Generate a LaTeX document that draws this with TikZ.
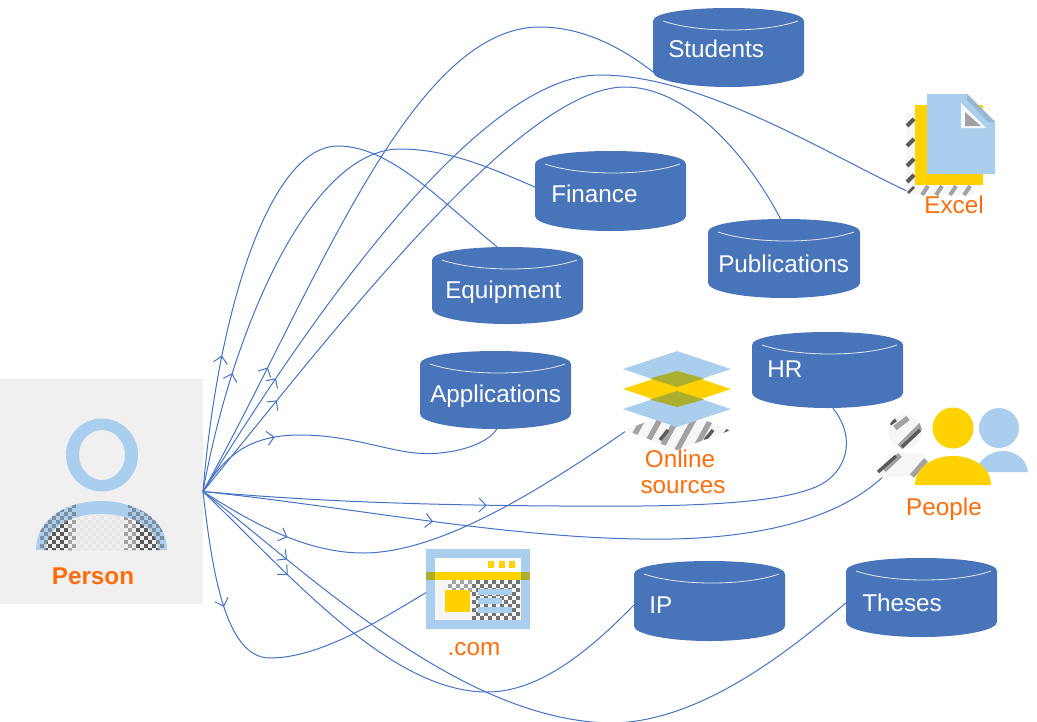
\documentclass[tikz,border=0pt]{standalone}
\usepackage{fontspec}
\setmainfont{Liberation Sans}
\usetikzlibrary{arrows.meta,decorations.markings,fit}
\definecolor{dbblue}{HTML}{4874BA}
\definecolor{linkblue}{HTML}{4472C4}
\definecolor{iconblue}{HTML}{A9CEEE}
\definecolor{iconyellow}{HTML}{FFD200}
\definecolor{iconolive}{HTML}{ABAF30}
\definecolor{labelorange}{HTML}{FF6D0A}
\definecolor{panelgrey}{HTML}{F0F0F0}
\definecolor{ditherdark}{HTML}{5A5A5A}
\definecolor{dithermid}{HTML}{A2A2A2}
\definecolor{ditherlight}{HTML}{E6E6E6}
\tikzset{
  basefont/.style={font=\fontsize{18.2}{22}\selectfont},
  dblabel/.style={basefont,text=white,anchor=base west,inner sep=0pt},
  iconlabel/.style={basefont,text=labelorange,inner sep=0pt,anchor=base},
  hull/.style={inner sep=0pt,outer sep=0pt},
  link/.style={draw=linkblue,line width=.75pt,line cap=round,postaction={decorate},
    decoration={markings,mark=at position #1 with {\arrow[line width=.75pt,linkblue]{Straight Barb[length=5.2pt,width=10.5pt]}}}},
}
% checker of 4px cells: x from, x to, y from, y to, colour
\newcommand{\chk}[5]{%
  \foreach \cx in {#1,\the\numexpr#1+4\relax,...,#2}{%
    \foreach \cy in {#3,\the\numexpr#3+4\relax,...,#4}{%
      \pgfmathtruncatemacro{\cp}{mod(round((\cx+\cy)/4),2)}%
      \ifnum\cp=0 \fill[#5] (\cx,\cy) rectangle ++(4,4);\fi
    }}}
% invisible hull node
\newcommand{\hullnode}[5]{%
  \coordinate (#1-a) at (#2,#3); \coordinate (#1-b) at (#4,#5);
  \node[hull,fit=(#1-a)(#1-b)] (#1) {};}
% database: name, left, top, right, bottom, text, text x, baseline y
\newcommand{\dbase}[8]{%
  \pgfmathsetmacro{\lx}{#2}\pgfmathsetmacro{\rx}{#4}\pgfmathsetmacro{\cx}{(#2+#4)/2}%
  \pgfmathsetmacro{\ty}{#3}\pgfmathsetmacro{\by}{#5}%
  \fill[dbblue] (\lx,\ty+13) .. controls (\lx,\ty+5) and (\cx-42,\ty) .. (\cx,\ty)
     .. controls (\cx+42,\ty) and (\rx,\ty+5) .. (\rx,\ty+13) -- (\rx,\by-15)
     .. controls (\rx,\by-7) and (\cx+42,\by) .. (\cx,\by)
     .. controls (\cx-42,\by) and (\lx,\by-7) .. (\lx,\by-15) -- cycle;
  \draw[white,line width=.6pt,opacity=.85] (\lx+10,\ty+13) .. controls (\lx+45,\ty+25) and (\rx-40,\ty+25) .. (\rx-6,\ty+13);
  \hullnode{#1}{#2}{#3}{#4}{#5}
  \node[dblabel] (#1-text) at (#7,#8) {#6};}
\begin{document}
\begin{tikzpicture}[x=.75pt,y=-.75pt]
\useasboundingbox (0,0) rectangle (1037,721);
\clip (0,0) rectangle (1037,721);
% ---------- person
\coordinate (person-a) at (0,379); \coordinate (person-b) at (203,604);
\node[hull,fill=panelgrey,fit=(person-a)(person-b)] (person) {};
\fill[iconblue,even odd rule] (102,455) ellipse [x radius=36,y radius=36.5] (102,455) ellipse [x radius=23,y radius=25];
\fill[iconblue] (36,550) .. controls (36,518) and (68,501) .. (101,501) .. controls (134,501) and (167,518) .. (167,550) -- cycle;
\begin{scope}
  \clip (36,550) .. controls (36,518) and (68,501) .. (101,501) .. controls (134,501) and (167,518) .. (167,550) -- cycle;
  \chk{40}{72}{504}{548}{ditherdark!55!iconblue}
  \chk{128}{160}{504}{548}{ditherdark!55!iconblue}
\end{scope}
\begin{scope}
  \clip (46,550) .. controls (46,528) and (70,514) .. (101,514) .. controls (132,514) and (158,528) .. (158,550) -- cycle;
  \fill[panelgrey] (40,510) rectangle (165,550);
  \chk{44}{68}{512}{548}{ditherdark}
  \chk{68}{76}{512}{548}{dithermid}
  \chk{76}{124}{512}{548}{ditherlight}
  \chk{124}{136}{512}{548}{dithermid}
  \chk{136}{156}{512}{548}{ditherdark}
\end{scope}
\node[iconlabel,font=\fontsize{18.2}{22}\selectfont\bfseries] (personlabel) at (93,584) {Person};
% ---------- databases
\dbase{students}{653}{8}{804}{87}{Students}{668}{57.5}
\dbase{finance}{535}{151}{686}{231}{Finance}{551}{202.5}
\dbase{equipment}{432}{247}{583}{324}{Equipment}{445}{298}
\dbase{applications}{420}{351}{571}{429}{Applications}{430}{402.5}
\dbase{publications}{708}{219}{860}{298}{Publications}{718}{272.5}
\dbase{hr}{752}{332}{903}{408}{HR}{767}{377.5}
\dbase{ip}{634}{561}{785}{641}{IP}{649}{613.5}
\dbase{theses}{846}{558}{997}{637}{Theses}{862}{611.5}
% ---------- excel icon
\hullnode{excel}{906}{94}{995}{195}
\fill[panelgrey!60!white] (906,113) rectangle (916,195) (906,185) rectangle (975,195);
\foreach \sy in {122,142,162,178}{\draw[ditherdark,line width=3pt] (907,\sy+4) -- (914,\sy-3);}
\foreach \sx in {922,936,950,964}{\draw[dithermid,line width=3pt] (\sx,195) -- (\sx+6,186);}
\draw[ditherdark,line width=2pt] (908,193) -- (914,187);
\fill[iconyellow] (915,105) rectangle (983,185);
\fill[iconblue] (927,94) -- (967,94) -- (995,122) -- (995,174) -- (927,174) -- cycle;
\fill[white!90!iconblue] (961,103) -- (986,128) -- (961,128) -- cycle;
\fill[dithermid] (965,112) -- (981,126) -- (965,126) -- cycle;
\fill[iconblue!80!ditherdark] (967,94) -- (995,122) -- (988,122) -- (967,100) -- cycle;
\node[iconlabel] (excellabel) at (954,213) {Excel};
% ---------- online sources icon
\coordinate (online-a) at (625,351); \coordinate (online-b) at (728,448);
\node[hull,fit=(online-a)(online-b)] (online) {};
\begin{scope}
  \clip (677,410) -- (731,430) -- (677,450) -- (625,430) -- cycle;
  \fill[panelgrey!60!white] (620,405) rectangle (735,450);
  \foreach \sx in {625,642,659,676,693}{\draw[dithermid,line width=4pt] (\sx,452) -- (\sx+22,412);}
  \foreach \sx in {705,720}{\draw[ditherdark,line width=2.5pt] (\sx,440) -- (\sx+8,430);}
  \draw[ditherdark,line width=2.5pt] (660,440) -- (668,430);
\end{scope}
\fill[iconblue] (677,391) -- (731,409) -- (677,427) -- (623,409) -- cycle;
\fill[iconblue] (677,351) -- (731,369) -- (677,387) -- (623,369) -- cycle;
\fill[iconyellow] (677,371) -- (731,389) -- (677,407) -- (623,389) -- cycle;
\fill[iconolive] (677,371) -- (704,378.5) -- (677,387) -- (650,378.5) -- cycle;
\fill[iconolive] (677,391) -- (704,399.5) -- (677,407) -- (650,399.5) -- cycle;
\node[iconlabel] (onlinelabel1) at (680,467) {Online};
\node[iconlabel] (onlinelabel2) at (683,493) {sources};
% ---------- people icon
\hullnode{people}{882}{407}{1029}{486}
\fill[panelgrey!60!white] (905,432) circle [radius=17];
\begin{scope}
  \clip (905,432) circle [radius=17];
  \draw[dithermid,line width=5pt] (900,447) -- (922,425);
  \draw[ditherdark,line width=2.5pt] (902,447) -- (920,430);
  \draw[ditherdark,line width=2.5pt] (890,424) -- (896,420);
  \draw[dithermid,line width=4pt] (895,428) -- (908,418);
\end{scope}
\fill[panelgrey!60!white] (876,477) -- (890,453) -- (925,453) -- (930,476) -- cycle;
\draw[dithermid,line width=4pt] (884,470) -- (900,455);
\draw[ditherdark,line width=2.5pt] (878,472) -- (896,456);
\draw[dithermid,line width=4pt] (912,476) -- (926,460);
\fill[iconblue] (999,428) circle [radius=20];
\fill[iconblue] (976,472) .. controls (978,460) and (990,451) .. (1003,451) .. controls (1016,451) and (1027,460) .. (1028,472) -- cycle;
\fill[iconyellow] (953,428) circle [radius=20.5];
\fill[iconyellow] (915,485) .. controls (915,468) and (932,456) .. (953,456) .. controls (974,456) and (991,468) .. (991,485) -- cycle;
\node[iconlabel] (peoplelabel) at (944,515) {People};
% ---------- .com icon
\hullnode{com}{426}{549}{530}{629}
\fill[iconblue] (426,549) rectangle (530,629);
\fill[white] (435,558) rectangle (521,620);
\fill[panelgrey!60!white] (435,580) rectangle (521,620);
\chk{472}{516}{580}{616}{ditherdark!85!white}
\chk{448}{470}{580}{588}{dithermid}
\fill[iconolive] (426,572) rectangle (530,580);
\fill[iconyellow] (435,572) rectangle (521,580);
\foreach \sx in {488,499,509}{\fill[iconyellow] (\sx,561) rectangle ++(6,7);}
\fill[iconyellow] (445,590) rectangle (470,612);
\fill[iconblue] (478,589) rectangle (512,595);
\fill[iconblue] (478,598) rectangle (502,604);
\fill[iconblue] (478,607) rectangle (512,613);
\node[iconlabel] (comlabel) at (474,655) {.com};
% ---------- connectors
\draw[link=103pt] (person.east) .. controls (218,310) and (270,146) .. (338,146) .. controls (390,146) and (440,200) .. (equipment.105.3);
\draw[link=91.5pt] (person.east) .. controls (232,330) and (310,149) .. (400,149) .. controls (450,149) and (495,170) .. (finance.177.7);
\draw[link=105pt] (person.east) .. controls (315,290) and (410,27) .. (540,27) .. controls (585,27) and (625,50) .. (students.198.2);
\draw[link=101pt] (person.east) .. controls (315,310) and (480,75) .. (600,75) .. controls (700,75) and (820,150) .. (excel.226.9);
\draw[link=88pt] (person.east) .. controls (335,330) and (520,87) .. (625,87) .. controls (690,87) and (750,160) .. (publications.95.8);
\draw[link=70pt] (person.east) .. controls (225,455) and (250,435) .. (300,435) .. controls (360,435) and (400,458) .. (440,453) .. controls (470,450) and (490,440) .. (applications.272.2);
\draw[link=213pt] (person.east) .. controls (300,500) and (400,505) .. (560,506) .. controls (680,507) and (780,505) .. (820,485) .. controls (845,472) and (858,440) .. (hr.278.2);
\draw[link=174pt] (person.east) .. controls (350,507) and (500,537) .. (640,539) .. controls (740,541) and (830,525) .. (people.203.2);
\draw[link=72pt] (person.east) .. controls (240,515) and (300,553) .. (363,553) .. controls (440,553) and (540,490) .. (online.212.3);
\draw[link=88pt] (person.east) .. controls (212,570) and (225,658) .. (270,658) .. controls (320,658) and (380,620) .. (com.184.4);
\draw[link=89pt] (person.east) .. controls (290,575) and (390,692) .. (487,692) .. controls (540,692) and (590,650) .. (ip.183);
\draw[link=81pt] (person.east) .. controls (310,575) and (460,720) .. (610,723) .. controls (700,723) and (790,650) .. (theses.184.2);
\end{tikzpicture}
\end{document}
